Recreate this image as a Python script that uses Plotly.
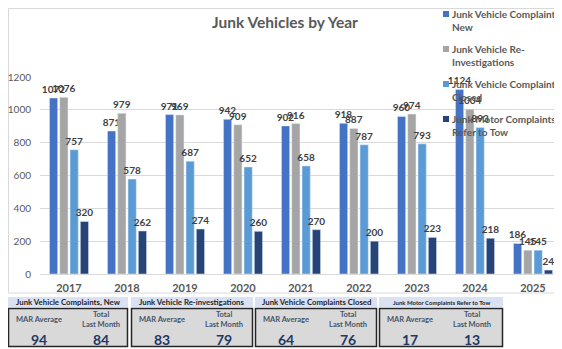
import plotly.graph_objects as go

# ---------------- data ----------------
years = ["2017", "2018", "2019", "2020", "2021", "2022", "2023", "2024", "2025"]
series_names = [
    "Junk Vehicle Complaints,<br>New",
    "Junk Vehicle Re-<br>Investigations",
    "Junk Vehicle Complaints<br>Closed",
    "Junk Motor Complaints<br>Refer to Tow",
]
new_complaints = [1072, 871, 971, 942, 902, 918, 960, 1124, 186]
re_investigations = [1076, 979, 969, 909, 916, 887, 974, 1004, 145]
complaints_closed = [757, 578, 687, 652, 658, 787, 793, 893, 145]
refer_to_tow = [320, 262, 274, 260, 270, 200, 223, 218, 24]
series_values = [new_complaints, re_investigations, complaints_closed, refer_to_tow]
colors = ["#4472C4", "#A5A5A5", "#5B9BD5", "#264478"]

table_headers = [
    "Junk Vehicle Complaints, New",
    "Junk Vehicle Re-investigations",
    "Junk Vehicle Complaints Closed",
    "Junk Motor Complaints Refer to Tow",
]
mar_average = [94, 83, 64, 17]
total_last_month = [84, 79, 76, 13]

# ---------------- geometry helpers (page pixel coords) ----------------
OFF = 8                      # default page body margin
PAGE_W, PAGE_H = 562, 349
W, H = PAGE_W - OFF, PAGE_H - OFF
PL, PR, PT, PB = 40, 562, 77, 274   # plot area in page pixels


def px(xp):
    return (xp - PL) / (PR - PL)


def py(yp):
    return (PB - yp) / (PB - PT)


FONT = "Lato"

fig = go.Figure()
for name, vals, col in zip(series_names, series_values, colors):
    fig.add_trace(go.Bar(
        x=years, y=vals, name=name, marker_color=col,
        text=vals, textposition="outside", textangle=0,
        constraintext="none", cliponaxis=False,
        textfont=dict(family=FONT, size=10, color="#404040", weight="bold"),
        showlegend=False,
    ))

shapes = []
annotations = []

# chart border
shapes.append(dict(type="rect", xref="paper", yref="paper",
                   x0=px(8.5), x1=px(575), y0=py(8.5), y1=py(293),
                   line=dict(color="#D9D9D9", width=1), layer="below"))

# manual legend
for i, (name, col) in enumerate(zip(series_names, colors)):
    cy = 14 + 35 * i
    shapes.append(dict(type="rect", xref="paper", yref="paper",
                       x0=px(443), x1=px(449), y0=py(cy - 3), y1=py(cy + 3),
                       fillcolor=col, line=dict(width=0)))
    for j, line in enumerate(name.split("<br>")):
        annotations.append(dict(xref="paper", yref="paper", x=px(450), y=py(cy + 13 * j),
                                text=line, showarrow=False, xanchor="left", yanchor="middle",
                                align="left",
                                font=dict(family=FONT, size=10, color="#595959", weight="bold")))

# bottom summary table
box_left = [8, 131, 255, 379]
box_right = [128, 253, 377, 503]
for i in range(4):
    x0 = box_left[i]
    x1 = box_right[i]
    shapes.append(dict(type="rect", xref="paper", yref="paper",
                       x0=px(x0), x1=px(x1), y0=py(297), y1=py(307),
                       fillcolor="#D9E1F2", line=dict(width=0)))
    shapes.append(dict(type="rect", xref="paper", yref="paper",
                       x0=px(x0 + 0.5), x1=px(x1 - 0.5), y0=py(308.5), y1=py(346.5),
                       fillcolor="#D9D9D9", line=dict(color="#262626", width=1.5)))
    annotations.append(dict(xref="paper", yref="paper", x=px((x0 + x1) / 2), y=py(302),
                            text=table_headers[i], showarrow=False,
                            xanchor="center", yanchor="middle",
                            font=dict(family=FONT, size=7.8 if i < 3 else 6,
                                      color="#262626", weight="bold")))
    annotations.append(dict(xref="paper", yref="paper", x=px(x0 + 31), y=py(319),
                            text="MAR Average", showarrow=False,
                            xanchor="center", yanchor="middle",
                            font=dict(family=FONT, size=7.5, color="#44546A", weight="bold")))
    annotations.append(dict(xref="paper", yref="paper", x=px(x0 + 93), y=py(314),
                            text="Total", showarrow=False,
                            xanchor="center", yanchor="middle",
                            font=dict(family=FONT, size=7.5, color="#44546A", weight="bold")))
    annotations.append(dict(xref="paper", yref="paper", x=px(x0 + 93), y=py(324),
                            text="Last Month", showarrow=False,
                            xanchor="center", yanchor="middle",
                            font=dict(family=FONT, size=7.5, color="#44546A", weight="bold")))
    annotations.append(dict(xref="paper", yref="paper", x=px(x0 + 31), y=py(339),
                            text=str(mar_average[i]), showarrow=False,
                            xanchor="center", yanchor="middle",
                            font=dict(family=FONT, size=14, color="#1F3864", weight="bold")))
    annotations.append(dict(xref="paper", yref="paper", x=px(x0 + 93), y=py(339),
                            text=str(total_last_month[i]), showarrow=False,
                            xanchor="center", yanchor="middle",
                            font=dict(family=FONT, size=14, color="#1F3864", weight="bold")))

fig.update_layout(
    width=W, height=H,
    margin=dict(l=PL - OFF, r=PAGE_W - PR, t=PT - OFF, b=PAGE_H - PB),
    paper_bgcolor="white", plot_bgcolor="white",
    barmode="group", bargap=0.29, bargroupgap=0.2,
    title=dict(text="<b>Junk Vehicles by Year</b>", x=(285 - OFF) / W, y=1 - (23 - OFF) / H,
               xanchor="center", yanchor="middle", xref="container", yref="container",
               font=dict(family=FONT, size=15.5, color="#595959")),
    xaxis=dict(type="category", showline=True, linecolor="#D9D9D9", linewidth=1,
               ticks="", showgrid=False, ticklabelstandoff=4,
               tickfont=dict(family=FONT, size=11, color="#595959", weight="bold")),
    yaxis=dict(range=[0, 1200], dtick=200, showgrid=True, gridcolor="#D9D9D9",
               zeroline=False, showline=False, ticks="", ticklabelstandoff=8,
               tickfont=dict(family=FONT, size=10, color="#595959")),
    shapes=shapes, annotations=annotations,
    showlegend=False,
)

fig.write_html("out.html")
